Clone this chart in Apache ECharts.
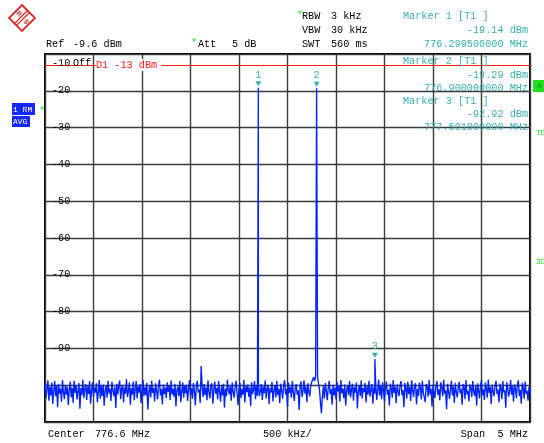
<!DOCTYPE html>
<html><head><meta charset="utf-8">
<script src="https://cdn.jsdelivr.net/npm/echarts@6/dist/echarts.min.js"></script>
<style>html,body{margin:0;padding:0;background:#fff}#c{width:544px;height:443px}</style>
</head><body><div id="c"></div>
<script>
// Sweep settings (MHz)
const startFreq = 774.1;
const stepFreq = 0.01;
const spanMHz = 5;

// Noise floor trace (dBm), one value per sweep point
const noiseLevels = [
-99.8,-103.6,-101.0,-98.7,-104.2,-100.5,-102.8,-99.3,-105.1,-101.7,-98.9,-103.0,-100.2,-106.0,-99.6,-102.3,-100.9,-104.5,-98.6,-101.9,-103.8,-99.9,-102.6,-100.4,-105.4,
-101.2,-99.0,-103.3,-100.7,-104.8,-98.8,-102.1,-100.0,-103.9,-101.5,-99.4,-106.4,-100.8,-102.7,-98.5,-103.5,-101.1,-99.7,-104.0,-100.3,-102.4,-98.9,-105.0,-101.4,-99.2,
-103.1,-100.6,-102.0,-99.5,-104.6,-101.8,-98.6,-103.7,-100.1,-102.9,-99.8,-105.6,-101.3,-100.0,-103.4,-98.8,-102.2,-100.9,-104.3,-99.1,-101.6,-103.0,-100.4,-106.2,-99.6,
-102.5,-100.2,-98.7,-103.8,-101.0,-99.9,-104.7,-100.6,-102.3,-98.4,-103.2,-101.5,-99.3,-105.3,-100.8,-102.6,-99.0,-104.1,-101.2,-98.9,-103.6,-100.3,-102.0,-99.7,-104.9,
-101.1,-98.6,-103.0,-100.5,-102.7,-99.4,-106.6,-101.9,-100.0,-103.3,-98.8,-102.1,-100.7,-104.4,-99.5,-101.4,-103.9,-100.2,-98.5,-102.8,-101.0,-105.2,-99.8,-102.4,-100.6,
-103.5,-99.2,-101.8,-100.1,-104.0,-98.7,-102.5,-100.9,-103.1,-99.6,-105.8,-101.3,-100.4,-102.9,-98.9,-104.6,-101.6,-99.3,-103.4,-100.0,-102.2,-99.9,-104.3,-101.1,-98.6,
-102.6,-100.8,-103.7,-99.4,-101.5,-105.5,-100.3,-98.8,-102.0,-101.2,-104.8,-99.1,-100.5,-103.2,-99.7,-102.7,-100.6,-104.1,-98.7,-101.9,-103.6,-100.1,-99.5,-105.0,-101.4,
-99.0,-102.3,-100.7,-103.9,-98.9,-101.7,-104.5,-100.2,-102.8,-99.6,-106.1,-100.9,-103.0,-98.5,-101.3,-102.5,-100.0,-104.2,-99.3,-101.8,-103.4,-100.5,-98.8,-102.1,-105.4,
-100.8,-99.4,-103.5,-101.0,-102.6,-98.6,-104.7,-100.3,-101.9,-99.8,-103.1,-100.6,-105.7,-99.2,-102.4,-101.2,-98.9,-103.8,-100.1,-102.9,-99.5,-103.0,-101.6,-99.7,-104.0,
-100.4,-102.2,-98.7,-103.6,-101.1,-99.9,-105.1,-100.7,-102.0,-99.1,-104.4,-101.5,-100.0,-103.3,-98.8,-102.7,-100.9,-104.9,-99.6,-101.3,-103.7,-100.2,-98.6,-102.5,-101.0,
-105.9,-99.3,-102.1,-100.5,-103.4,-98.9,-101.8,-104.3,-100.8,-99.7,-102.6,-101.4,-106.7,-100.1,-99.0,-103.2,-101.6,-98.7,-102.3,-100.4,-104.6,-99.5,-101.9,-103.0,-100.0,
-99.2,-98.4,-97.8,-98.9,-97.5,-98.2,-97.9,-99.6,-101.2,-104.8,-107.6,-102.9,-100.3,-103.7,-99.4,-101.5,-104.1,-100.7,-98.8,-102.4,-101.0,-105.3,-99.9,-102.8,-100.6,
-103.9,-99.1,-101.7,-100.2,-104.5,-98.6,-102.2,-100.9,-103.5,-99.8,-105.5,-101.3,-100.0,-102.7,-98.9,-103.3,-101.1,-99.6,-104.2,-100.5,-102.0,-99.3,-106.3,-101.6,-100.1,
-102.9,-98.7,-103.6,-100.8,-101.9,-99.4,-104.7,-100.3,-102.5,-98.8,-103.1,-101.0,-99.7,-105.0,-100.6,-102.3,-99.9,-104.0,-101.4,-98.5,-102.8,-100.2,-103.8,-99.2,-101.6,
-104.4,-100.7,-99.0,-102.6,-101.2,-105.6,-99.6,-100.9,-103.4,-98.6,-102.1,-100.4,-104.9,-99.8,-101.7,-103.0,-100.0,-98.9,-102.7,-101.3,-106.0,-99.4,-100.8,-103.6,-99.1,
-102.4,-100.5,-104.3,-98.7,-101.5,-103.2,-100.1,-99.5,-105.2,-101.0,-102.9,-99.3,-100.7,-103.9,-98.8,-102.0,-101.6,-104.6,-99.7,-100.3,-103.1,-98.6,-102.5,-100.9,-105.8,
-99.9,-101.8,-103.5,-100.2,-98.9,-102.6,-101.1,-104.1,-99.2,-100.6,-103.0,-98.5,-102.3,-101.4,-106.5,-99.6,-100.0,-103.7,-101.2,-98.8,-102.8,-100.4,-104.8,-99.4,-101.9,
-103.3,-100.8,-99.1,-102.2,-101.0,-105.3,-99.7,-100.3,-103.8,-98.6,-102.5,-101.5,-104.4,-99.8,-100.6,-103.2,-98.9,-101.8,-102.9,-100.1,-105.6,-99.5,-101.3,-103.6,-100.0,
-98.7,-102.7,-101.1,-104.0,-99.3,-100.9,-103.4,-98.5,-102.1,-100.5,-105.1,-99.9,-101.6,-103.0,-100.2,-98.8,-102.4,-101.2,-104.7,-99.6,-100.7,-103.8,-98.9,-102.0,-101.4,
-106.1,-99.2,-100.6,-103.1,-101.7,-98.6,-102.6,-100.3,-104.5,-99.8,-101.0,-103.5,-100.0,-98.7,-102.9,-101.3,-105.0,-99.4,-100.8,-103.7,-99.0,-102.3,-101.5,-104.2,-100.4,
-101.8
];

// Discrete signals in the trace
const peakFreqs = [775.71, 776.2995, 776.9, 777.501];
const peakLevels = [-94.8, -19.14, -19.29, -92.92];

// Markers
const markerNames = ['1', '2', '3'];
const markerFreqs = [776.2995, 776.9, 777.501];
const markerLevels = [-19.14, -19.29, -92.92];

// Display line D1
const displayLine = -13;

// Y axis
const yMin = -110, yMax = -10, yStep = 10;
const yLabelsShown = [-20, -30, -40, -50, -60, -70, -80, -90];

// Build trace
const pts = [];
noiseLevels.forEach((v, i) => {
  const f = startFreq + i * stepFreq;
  if (!peakFreqs.some(p => Math.abs(p - f) < 1e-6)) pts.push([f - startFreq, v]);
});
peakFreqs.forEach((f, i) => pts.push([f - startFreq, peakLevels[i]]));
pts.sort((a, b) => a[0] - b[0]);

const MONO = '"Liberation Mono", "DejaVu Sans Mono", monospace';
const FS = 10.2;
const TEAL = '#36aeb0';
const GREEN = '#22dd22';
const font = (s) => (s || FS) + 'px ' + MONO;

function txt(x, y, t, color, align, size) {
  return { type: 'text', x: x, y: y, z: 50,
    style: { text: t, fill: color || '#000', font: font(size), textAlign: align || 'left', textVerticalAlign: 'middle' } };
}

const chart = echarts.init(document.getElementById('c'), null, { renderer: 'canvas' });

const graphics = [
  // R&S logo
  { type: 'polygon', z: 50, shape: { points: [[22, 5], [35, 18], [22, 31], [9, 18]] },
    style: { fill: 'none', stroke: '#d42a2a', lineWidth: 1.8 } },
  { type: 'line', z: 50, shape: { x1: 27, y1: 11, x2: 15, y2: 23 }, style: { stroke: '#d42a2a', lineWidth: 1.2 } },
  { type: 'line', z: 50, shape: { x1: 29, y1: 13, x2: 17, y2: 25 }, style: { stroke: '#d42a2a', lineWidth: 1.2 } },
  { type: 'text', x: 19, y: 14, z: 50, rotation: -Math.PI / 4,
    style: { text: 'R', fill: '#d42a2a', font: 'bold 7px "Liberation Sans"', textAlign: 'center', textVerticalAlign: 'middle' } },
  { type: 'text', x: 26, y: 22, z: 50, rotation: -Math.PI / 4,
    style: { text: 'S', fill: '#d42a2a', font: 'bold 7px "Liberation Sans"', textAlign: 'center', textVerticalAlign: 'middle' } },

  // header
  txt(46, 44, 'Ref'), txt(73, 44, '-9.6 dBm'),
  txt(191, 43, '*', GREEN), txt(198, 44, 'Att'), txt(232, 44, '5 dB'),
  txt(297, 15, '*', GREEN), txt(302, 16, 'RBW'), txt(331, 16, '3 kHz'),
  txt(302, 30, 'VBW'), txt(331, 30, '30 kHz'),
  txt(302, 44, 'SWT'), txt(331, 44, '560 ms'),
  txt(403, 16, 'Marker 1 [T1 ]', TEAL),
  txt(528, 30, '-19.14 dBm', TEAL, 'right'),
  txt(528, 44, '776.299500000 MHz', TEAL, 'right'),
  txt(403, 61, 'Marker 2 [T1 ]', TEAL),
  txt(528, 75, '-19.29 dBm', TEAL, 'right'),
  txt(528, 88, '776.900000000 MHz', TEAL, 'right'),
  txt(403, 101, 'Marker 3 [T1 ]', TEAL),
  txt(528, 114, '-92.92 dBm', TEAL, 'right'),
  txt(528, 127, '777.501000000 MHz', TEAL, 'right'),

  // top-left inside plot
  txt(52, 63, '-10'), txt(73, 63, 'Off'),
  { type: 'text', x: 96, y: 65, z: 50,
    style: { text: 'D1 -13 dBm', fill: '#ff1a1a', font: font(), textAlign: 'left', textVerticalAlign: 'middle',
      backgroundColor: '#fff', padding: [1, 4, 1, 0] } },

  // left trace info
  { type: 'rect', z: 50, shape: { x: 12, y: 103, width: 23, height: 12 }, style: { fill: '#1428ff' } },
  txt(13, 109.5, '1 RM', '#fff', 'left', 8),
  { type: 'rect', z: 50, shape: { x: 12, y: 116, width: 18, height: 11 }, style: { fill: '#1428ff' } },
  txt(13, 121.5, 'AVG', '#fff', 'left', 8),
  txt(39, 111, '*', GREEN),

  // right side indicators
  { type: 'rect', z: 50, shape: { x: 533, y: 80, width: 11, height: 12 }, style: { fill: '#22e022' } },
  txt(537, 86, 'A', '#118811', 'left', 8),
  txt(536, 133, 'TDF', GREEN, 'left', 8),
  txt(536, 262, '3DB', GREEN, 'left', 8),

  // footer
  txt(48, 434, 'Center'), txt(95, 434, '776.6 MHz'),
  txt(263, 434, '500 kHz/'),
  txt(528, 434, 'Span  5 MHz', '#000', 'right')
];

chart.setOption({
  animation: false,
  backgroundColor: '#fff',
  grid: { left: 45, right: 14, top: 54, bottom: 21, show: true, borderColor: '#000', borderWidth: 2, backgroundColor: 'transparent' },
  xAxis: {
    type: 'value', min: 0, max: spanMHz, interval: 0.5,
    axisLine: { show: false }, axisTick: { show: false }, axisLabel: { show: false },
    splitLine: { show: true, lineStyle: { color: '#3a3a3a', width: 1.4 } }
  },
  yAxis: {
    type: 'value', min: yMin, max: yMax, interval: yStep,
    axisLine: { show: false }, axisTick: { show: false },
    axisLabel: { inside: true, margin: 7, color: '#000', fontFamily: MONO, fontSize: FS, padding: [3, 0, 0, 0],
      formatter: v => yLabelsShown.indexOf(v) >= 0 ? String(v) : '' },
    splitLine: { show: true, lineStyle: { color: '#3a3a3a', width: 1.4 } }
  },
  series: [{
    type: 'line', data: pts, symbol: 'none', showSymbol: false, sampling: false,
    lineStyle: { color: '#0022ff', width: 1.35 }, z: 5,
    markLine: {
      silent: true, symbol: ['none', 'none'], label: { show: false },
      lineStyle: { color: '#ff1a1a', width: 1, type: 'solid' },
      data: [{ yAxis: displayLine }]
    },
    markPoint: {
      silent: true,
      symbol: 'path://M0,0 L10,0 L5,8 Z', symbolSize: [6, 5], symbolOffset: [0, -4],
      itemStyle: { color: TEAL },
      label: { show: true, position: 'top', distance: 1, color: TEAL, fontFamily: MONO, fontSize: FS,
        formatter: p => p.name },
      data: markerNames.map((n, i) => ({ name: n, coord: [markerFreqs[i] - startFreq, markerLevels[i]] }))
    }
  }],
  graphic: graphics
});
</script>
</body></html>
